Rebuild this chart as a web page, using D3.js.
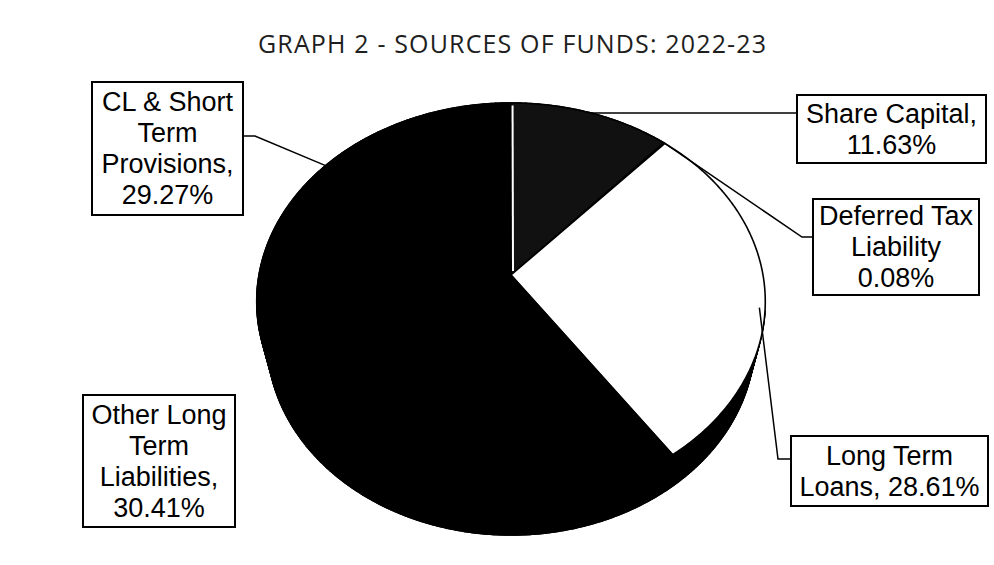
<!DOCTYPE html>
<meta charset="utf-8">
<style>

body {
  margin: 0;
  background: #fff;
}

svg {
  display: block;
}

.title {
  font-family: "Open Sans", sans-serif;
  font-size: 25px;
  fill: #1e1e1e;
}

.box rect {
  fill: #fff;
  stroke: #000;
  stroke-width: 2px;
}

.box text {
  font-family: "Liberation Sans", Arial, sans-serif;
  font-size: 27px;
  fill: #000;
  text-anchor: middle;
}

.leader {
  fill: none;
  stroke: #000;
  stroke-width: 1.5px;
}

</style>
<svg width="994" height="565"></svg>
<script src="https://d3js.org/d3.v7.min.js"></script>
<script>

var title = "GRAPH 2 - SOURCES OF FUNDS: 2022-23";

var categories = ["Share Capital", "Deferred Tax Liability", "Long Term Loans", "Other Long Term Liabilities", "CL & Short Term Provisions"];
var values = [11.63, 0.08, 28.61, 30.41, 29.27];

// label text, {v} is replaced by the formatted value
var labelLines = [
  ["Share Capital,", "{v}"],
  ["Deferred Tax", "Liability", "{v}"],
  ["Long Term", "Loans, {v}"],
  ["Other Long", "Term", "Liabilities,", "{v}"],
  ["CL & Short", "Term", "Provisions,", "{v}"]
];

var topFill = ["#111", "#fff", "#fff", "#000", "#000"];

// label boxes and leader elbows
var boxes = [
  {x: 797, y: 95, w: 189, h: 68},
  {x: 813, y: 199, w: 166, h: 96},
  {x: 791, y: 436, w: 197, h: 70},
  {x: 83, y: 395, w: 152, h: 132},
  {x: 92, y: 82, w: 151, h: 133}
];
var leaders = [
  {dy: null, dx: 0, drop: 0},
  {dy: 38, dx: -11, drop: 0},
  {dy: 23, dx: -13, drop: 0.5},
  null,
  {dy: 54, dx: 12, drop: 0}
];

var svg = d3.select("svg");

var rad = Math.PI / 180;

// tilted pie with a bit of perspective
var cx = 511, cy = 275, R = 252, depth = 65,
    elev = 50.7 * rad, dist = 1195;

function view(theta, drop) {
  var x = R * Math.sin(theta), z = -R * Math.cos(theta), y = -drop;
  var up = y * Math.cos(elev) - z * Math.sin(elev),
      zz = y * Math.sin(elev) + z * Math.cos(elev);
  var f = dist / (dist - zz);
  return {x: cx + x * f, y: cy - up * f, z: zz};
}

function pt(theta, drop) {
  var p = view(theta, drop);
  return [p.x, p.y];
}

function samples(a0, a1) {
  var n = Math.max(1, Math.ceil((a1 - a0) / (0.5 * rad))), out = [];
  for (var i = 0; i <= n; i++) out.push(a0 + (a1 - a0) * i / n);
  return out;
}

var arcs = d3.pie().sort(null).value(function(d) { return d; })(values);

var line = d3.line();
var ring = d3.line().curve(d3.curveLinearClosed);
var fmt = d3.format(".2f");

// side walls, back to front
var quads = [];
arcs.forEach(function(a, i) {
  var t = samples(a.startAngle, a.endAngle);
  for (var k = 0; k < t.length - 1; k++) {
    var m = (t[k] + t[k + 1]) / 2;
    quads.push({
      i: i,
      m: m,
      z: view(m, depth / 2).z,
      pts: [pt(t[k], 0), pt(t[k + 1], 0), pt(t[k + 1], depth), pt(t[k], depth)]
    });
  }
});
quads.sort(function(a, b) { return a.z - b.z; });

// the walls come out dark once they turn toward the viewer
function sideFill(q) {
  return q.m > 100 * rad ? "#000" : topFill[q.i];
}

svg.append("g")
  .selectAll("path")
  .data(quads)
  .join("path")
    .attr("d", function(d) { return ring(d.pts); })
    .attr("fill", sideFill)
    .attr("stroke", sideFill)
    .attr("stroke-width", 1.5)
    .attr("stroke-linejoin", "round");

svg.append("path")
    .attr("d", ring(samples(0, 2 * Math.PI).map(function(t) { return pt(t, depth); })))
    .attr("fill", "none")
    .attr("stroke", "#000")
    .attr("stroke-width", 1.8);

// top faces
svg.append("g")
  .selectAll("path")
  .data(arcs)
  .join("path")
    .attr("d", function(a) {
      return ring([[cx, cy]].concat(samples(a.startAngle, a.endAngle).map(function(t) { return pt(t, 0); })));
    })
    .attr("fill", function(a, i) { return topFill[i]; })
    .attr("stroke", "#000")
    .attr("stroke-width", 1.6)
    .attr("stroke-linejoin", "round");

// white edge on the first slice
svg.append("path")
    .attr("d", line([[cx + 2, cy - 4], pt(arcs[0].startAngle + 0.4 * rad, 4)]))
    .attr("stroke", "#fff")
    .attr("stroke-width", 2);

// leader lines
arcs.forEach(function(a, i) {
  var L = leaders[i];
  if (!L) return;
  var b = boxes[i];
  var mid = (a.startAngle + a.endAngle) / 2;
  var p = pt(mid, L.drop * depth);
  var pts;
  if (L.dy === null) {
    pts = [p, [b.x, p[1]]];
  } else if (L.dx < 0) {
    pts = [p, [b.x + L.dx, b.y + L.dy], [b.x, b.y + L.dy]];
  } else {
    pts = [p, [b.x + b.w + L.dx, b.y + L.dy], [b.x + b.w, b.y + L.dy]];
  }
  svg.append("path")
      .attr("class", "leader")
      .attr("d", line(pts));
});

// label boxes
var lh = 31;
var box = svg.append("g")
  .selectAll("g")
  .data(arcs)
  .join("g")
    .attr("class", "box");

box.append("rect")
    .attr("x", function(a, i) { return boxes[i].x; })
    .attr("y", function(a, i) { return boxes[i].y; })
    .attr("width", function(a, i) { return boxes[i].w; })
    .attr("height", function(a, i) { return boxes[i].h; });

box.each(function(a, i) {
  var b = boxes[i], lines = labelLines[i];
  var y0 = b.y + (b.h - lines.length * lh) / 2 + lh / 2 + 9;
  d3.select(this).selectAll("text")
    .data(lines)
    .join("text")
      .attr("x", b.x + b.w / 2)
      .attr("y", function(d, k) { return y0 + k * lh; })
      .text(function(d) { return d.replace("{v}", fmt(a.data) + "%"); });
});

svg.append("text")
    .attr("class", "title")
    .attr("x", 258)
    .attr("y", 53)
    .attr("textLength", 508)
    .attr("lengthAdjust", "spacing")
    .text(title);

</script>
